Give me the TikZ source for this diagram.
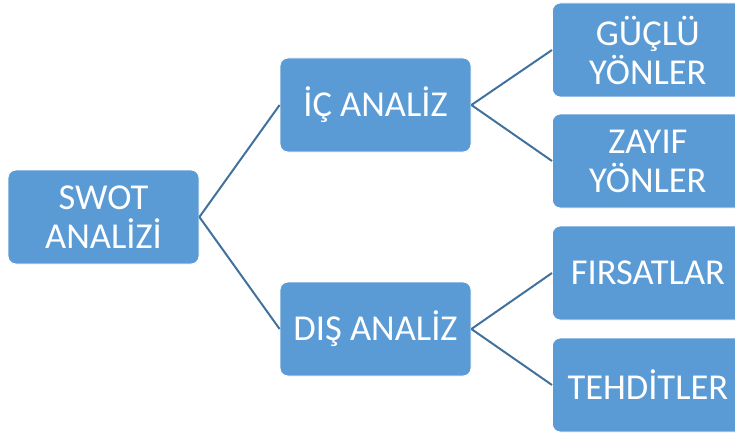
\documentclass[tikz,border=0pt]{standalone}
\usepackage{fontspec}
\setmainfont{Carlito}
\definecolor{boxblue}{HTML}{5B9BD5}
\definecolor{lineblue}{HTML}{41719C}
\begin{document}
\begin{tikzpicture}[x=1pt,y=-1pt,
  box/.style={fill=boxblue,draw=white,line width=0.8pt,rounded corners=8pt,text=white,
    minimum width=191pt,minimum height=94pt,inner sep=0pt,align=center,
    font=\fontsize{36.5}{39}\selectfont},
  conn/.style={draw=lineblue,line width=2pt}]
\useasboundingbox (0,0) rectangle (735,433);
\begin{scope}
\clip (0,0) rectangle (735,433);
\node[box] (swot) at (103.5,217) {SWOT\\ANALİZİ};
\node[box] (ic) at (375.5,105) {İÇ ANALİZ};
\node[box] (dis) at (375.5,329) {DIŞ ANALİZ};
\node[box,anchor=west] (guclu) at (552,50) {GÜÇLÜ\\YÖNLER};
\node[box,anchor=west] (zayif) at (552,161) {ZAYIF\\YÖNLER};
\node[box,anchor=west] (firsat) at (552,273) {FIRSATLAR};
\node[box,anchor=west] (tehdit) at (552,385) {TEHDİTLER};
\end{scope}
\draw[conn] (swot.east) -- (ic.west);
\draw[conn] (swot.east) -- (dis.west);
\draw[conn] (ic.east) -- (guclu.west);
\draw[conn] (ic.east) -- (zayif.west);
\draw[conn] (dis.east) -- (firsat.west);
\draw[conn] (dis.east) -- (tehdit.west);
\end{tikzpicture}
\end{document}
